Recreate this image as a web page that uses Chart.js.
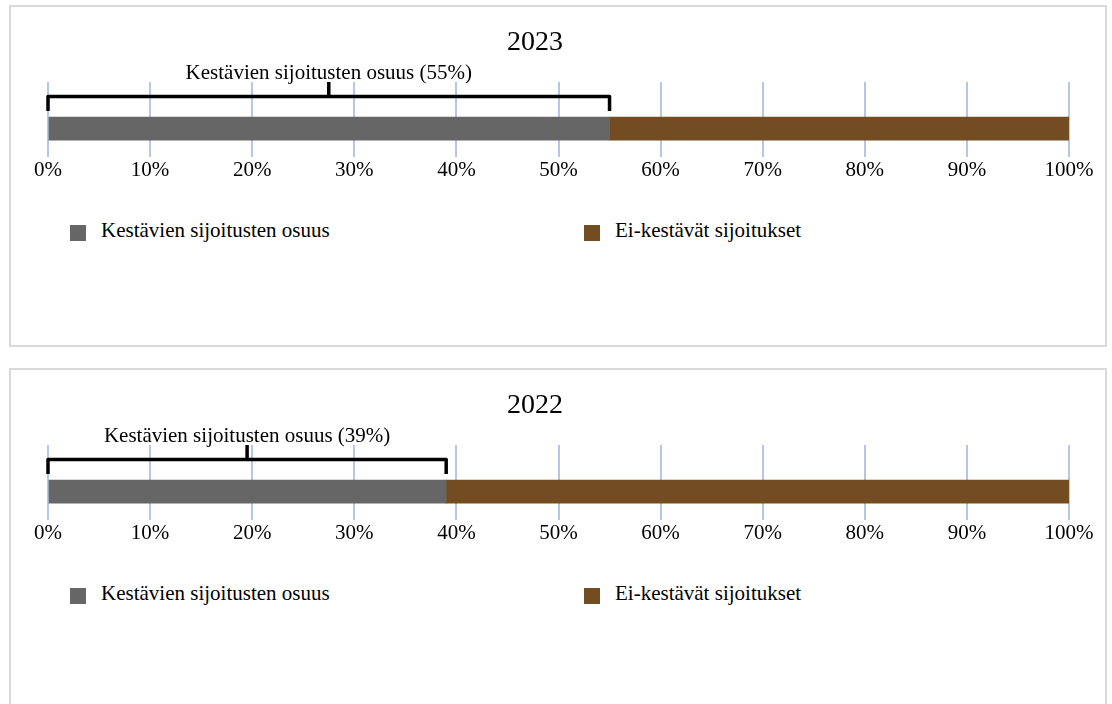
<!DOCTYPE html>
<html>
<head>
<meta charset="utf-8">
<script src="https://cdn.jsdelivr.net/npm/chart.js@4.4.1/dist/chart.umd.min.js"></script>
<style>
  html, body { margin: 0; padding: 0; background: #ffffff; }
  body { width: 1112px; height: 704px; position: relative; overflow: hidden;
         font-family: "Liberation Serif", "Times New Roman", serif; }
  .panel { position: absolute; left: 9px; width: 1098px; height: 342px;
           border: 2px solid #d9d9d9; box-sizing: border-box; }
  .cv { position: absolute; left: 1px; }
  .legbox { position: absolute; width: 16px; height: 16px; }
  .legtxt { position: absolute; font-size: 21px; line-height: 21px; color: #000; white-space: nowrap; }
</style>
</head>
<body>
<script>
// ---- data ----
const years = ['2023', '2022'];
const seriesNames = ['Kestävien sijoitusten osuus', 'Ei-kestävät sijoitukset'];
const sustainableShare = [55, 39];
const nonSustainableShare = [45, 61];
const percentTicks = [0, 10, 20, 30, 40, 50, 60, 70, 80, 90, 100];

// ---- styles / layout constants ----
const COLORS = ['#666666', '#744c21'];
const FONT = '"Liberation Serif", "Times New Roman", serif';
const PANEL_STEP = 363;
const BAR_LEVEL = 0.353;           // vertical placement of the bar row inside the plot band
const LEGEND_BOX_X = [70, 584];
const LEGEND_TXT_X = [101, 615];

const bracketPlugin = {
  id: 'bracket',
  afterDatasetsDraw(chart, args, opts) {
    const { ctx, chartArea, scales } = chart;
    const xs = scales.x;
    const x0 = xs.getPixelForValue(0);
    const x1 = xs.getPixelForValue(opts.value);
    const xm = (x0 + x1) / 2;
    const top = chartArea.top;
    const yH = top + 14.5, yB = top + 29;
    ctx.save();
    ctx.strokeStyle = '#000000';
    ctx.lineWidth = 3.5;
    ctx.lineJoin = 'round';
    ctx.lineCap = 'butt';
    ctx.beginPath();
    ctx.moveTo(x0, yB); ctx.lineTo(x0, yH); ctx.lineTo(x1, yH); ctx.lineTo(x1, yB);
    ctx.stroke();
    ctx.beginPath();
    ctx.moveTo(xm, yH); ctx.lineTo(xm, top);
    ctx.stroke();
    ctx.font = '21px ' + FONT;
    ctx.fillStyle = '#000000';
    ctx.textAlign = 'center';
    ctx.textBaseline = 'alphabetic';
    ctx.fillText(opts.label, xm, top - 3);
    ctx.restore();
  }
};

years.forEach((year, i) => {
  const off = PANEL_STEP * i;
  const panel = document.createElement('div');
  panel.className = 'panel';
  panel.style.top = (5 + off) + 'px';
  document.body.appendChild(panel);

  const cv = document.createElement('canvas');
  cv.className = 'cv';
  cv.width = 1104; cv.height = 200;
  cv.style.width = '1104px'; cv.style.height = '200px';
  cv.style.top = (7 + off) + 'px';
  document.body.appendChild(cv);

  const chart = new Chart(cv, {
    type: 'bar',
    data: {
      datasets: [
        { label: seriesNames[0], data: [{ x: sustainableShare[i], y: BAR_LEVEL }],
          backgroundColor: COLORS[0], barThickness: 23, grouped: false, borderWidth: 0 },
        { label: seriesNames[1], data: [{ x: nonSustainableShare[i], y: BAR_LEVEL }],
          backgroundColor: COLORS[1], barThickness: 23, grouped: false, borderWidth: 0 }
      ]
    },
    options: {
      responsive: false,
      animation: false,
      indexAxis: 'y',
      layout: { padding: { left: 0, right: 36, top: 0, bottom: 10 } },
      scales: {
        x: {
          type: 'linear', position: 'bottom', min: 0, max: 100, stacked: true,
          grid: { color: '#b4c7e7', lineWidth: 2, drawTicks: false },
          border: { display: false },
          afterBuildTicks: s => { s.ticks = percentTicks.map(v => ({ value: v })); },
          afterFit: s => { s.height = 40; },
          ticks: { padding: 1, autoSkip: false, maxRotation: 0, color: '#000000',
                   font: { family: FONT, size: 21 }, callback: v => v + '%' }
        },
        y: {
          type: 'linear', min: 0, max: 1, position: 'left',
          grid: { display: false }, border: { display: false },
          ticks: { display: false },
          afterFit: s => { s.width = 47; }
        }
      },
      plugins: {
        legend: { display: false },
        tooltip: { enabled: false },
        title: { display: true, text: year, color: '#000000',
                 font: { family: FONT, size: 28, weight: 'normal' },
                 padding: { top: 19, bottom: 22.4 } },
        bracket: { value: sustainableShare[i], label: seriesNames[0] + ' (' + sustainableShare[i] + '%)' }
      }
    },
    plugins: [bracketPlugin]
  });

  chart.data.datasets.forEach((ds, j) => {
    const box = document.createElement('div');
    box.className = 'legbox';
    box.style.background = ds.backgroundColor;
    box.style.left = LEGEND_BOX_X[j] + 'px';
    box.style.top = (225 + off) + 'px';
    document.body.appendChild(box);
    const t = document.createElement('div');
    t.className = 'legtxt';
    t.textContent = ds.label;
    t.style.left = LEGEND_TXT_X[j] + 'px';
    t.style.top = (219.7 + off) + 'px';
    document.body.appendChild(t);
  });
});
</script>
</body>
</html>
